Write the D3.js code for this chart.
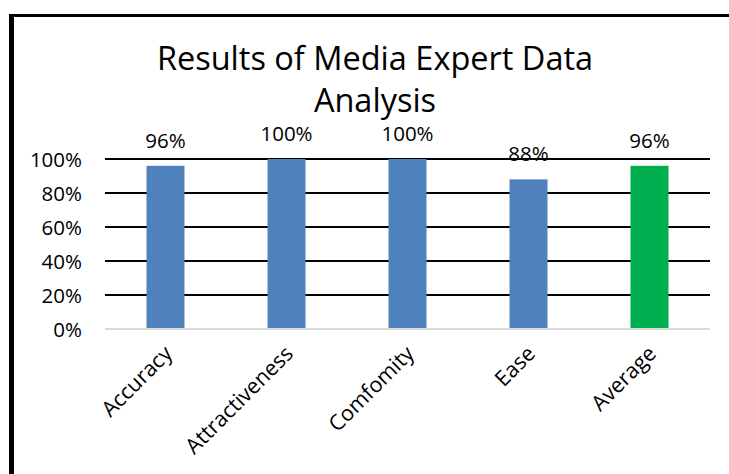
<!DOCTYPE html>
<html>
<head>
<meta charset="utf-8">
<script src="https://cdn.jsdelivr.net/npm/d3@7"></script>
<style>
  html, body { margin: 0; padding: 0; background: #fff; }
  svg { display: block; }
  text { font-family: "Open Sans", Lato, sans-serif; fill: #000; }
</style>
</head>
<body>
<svg id="chart" width="729" height="474"></svg>
<script>
const categories = ["Accuracy", "Attractiveness", "Comfomity", "Ease", "Average"];
const values = [0.96, 1.00, 1.00, 0.88, 0.96];
const valueLabels = ["96%", "100%", "100%", "88%", "96%"];
const barColors = ["#4f81bd", "#4f81bd", "#4f81bd", "#4f81bd", "#00b050"];
const yTicks = [0, 0.2, 0.4, 0.6, 0.8, 1.0];
const yTickLabels = ["0%", "20%", "40%", "60%", "80%", "100%"];
const titleLines = ["Results of Media Expert Data", "Analysis"];

(function () {
const svg = d3.select("#chart");
const W = 729, H = 474;
const FONT = "'Open Sans', Lato, sans-serif";

// frame border
svg.append("rect").attr("x", 9).attr("y", 14).attr("width", 5).attr("height", H - 14).attr("fill", "#000");
svg.append("rect").attr("x", 9).attr("y", 14).attr("width", W - 9).attr("height", 3).attr("fill", "#000");

const pLeft = 105, pRight = 710, pTop = 159, pBottom = 329;

const x = d3.scaleBand().domain(categories).range([pLeft, pRight]).paddingInner(0.686).paddingOuter(0.343);
const y = d3.scaleLinear().domain([0, 1]).range([pBottom, pTop]);

// gridlines
svg.append("g").selectAll("line").data(yTicks.filter(t => t > 0)).join("line")
  .attr("x1", pLeft).attr("x2", pRight)
  .attr("y1", d => y(d)).attr("y2", d => y(d))
  .attr("stroke", "#000").attr("stroke-width", 2);

// y axis labels
const yAxis = d3.axisLeft(y).tickValues(yTicks).tickSize(0).tickPadding(0)
  .tickFormat((d, i) => yTickLabels[i]);
const gy = svg.append("g").attr("transform", `translate(82,0)`).call(yAxis);
gy.select(".domain").remove();
gy.selectAll("text").attr("font-family", FONT).attr("font-size", 20.5).attr("fill", "#000").attr("dy", "0.36em");

// bars
svg.append("g").selectAll("rect").data(categories).join("rect")
  .attr("x", d => x(d))
  .attr("width", x.bandwidth())
  .attr("y", (d, i) => y(values[i]))
  .attr("height", (d, i) => y(0) - y(values[i]))
  .attr("fill", (d, i) => barColors[i]);

// x axis baseline
svg.append("line").attr("x1", pLeft).attr("x2", pRight).attr("y1", y(0)).attr("y2", y(0))
  .attr("stroke", "#d9d9d9").attr("stroke-width", 2);

// data labels
svg.append("g").selectAll("text").data(categories).join("text")
  .attr("x", d => x(d) + x.bandwidth() / 2)
  .attr("y", (d, i) => y(values[i]) - 18)
  .attr("text-anchor", "middle")
  .attr("font-size", 20.5)
  .text((d, i) => valueLabels[i]);

// x labels
svg.append("g").selectAll("text").data(categories).join("text")
  .attr("transform", d => `translate(${x(d) + x.bandwidth() / 2 + 8},355) rotate(-45)`)
  .attr("text-anchor", "end")
  .attr("font-size", 21.5)
  .text(d => d);

// title
svg.append("g").selectAll("text").data(titleLines).join("text")
  .attr("x", 375)
  .attr("y", (d, i) => 70 + i * 42)
  .attr("text-anchor", "middle")
  .attr("font-size", 32.5)
  .text(d => d);
})();
</script>
</body>
</html>
